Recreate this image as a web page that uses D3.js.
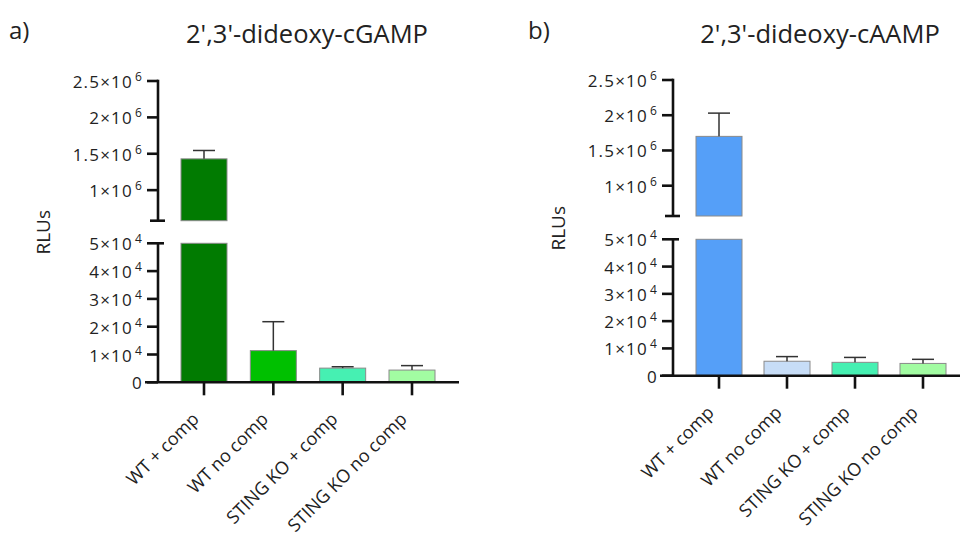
<!DOCTYPE html>
<html>
<head>
<meta charset="utf-8">
<script src="https://cdn.jsdelivr.net/npm/d3@7"></script>
<style>
  body { margin: 0; background: #fff; }
  svg { display: block; }
  text { font-family: "Open Sans", "Noto Sans", sans-serif; fill: #222; }
</style>
</head>
<body>
<svg id="chart" width="961" height="538"></svg>
<script>
// data
var categories = ["WT + comp", "WT no comp", "STING KO + comp", "STING KO no comp"];
var gampMean = [1.43e6, 1.14e4, 5.1e3, 4.4e3];
var gampSD   = [1.15e5, 1.04e4, 5.0e2, 1.6e3];
var aampMean = [1.70e6, 5.3e3, 4.9e3, 4.5e3];
var aampSD   = [3.3e5, 1.7e3, 1.8e3, 1.5e3];
var upperTicks = [1e6, 1.5e6, 2e6, 2.5e6];
var lowerTicks = [0, 1e4, 2e4, 3e4, 4e4, 5e4];
var gampColors = ["#017b01", "#00c000", "#46f0b2", "#a2fca2"];
var aampColors = ["#559ff8", "#c7ddf7", "#46f0b2", "#a2fca2"];

var svg = d3.select("#chart");

// panel layout (pixels)
var panels = [
  { tag: "a)", title: "2',3'-dideoxy-cGAMP", means: gampMean, sd: gampSD, colors: gampColors,
    tagX: 9, titleX: 307, axisX: 158, xStart: 145, xEnd: 459, centers: [204, 412],
    upper: [220.7, 81], upperMin: 0.58e6, lower: [382.3, 243.3] },
  { tag: "b)", title: "2',3'-dideoxy-cAAMP", means: aampMean, sd: aampSD, colors: aampColors,
    tagX: 528, titleX: 820, axisX: 673, xStart: 660, xEnd: 960, centers: [719, 923],
    upper: [216, 80], upperMin: 0.57e6, lower: [375.7, 239.3] }
];

var barWidth = 46;

function tickLabel(sel, v) {
  var exp = Math.floor(Math.log10(v));
  var mant = v / Math.pow(10, exp);
  sel.append("tspan").text(mant + "\u00d710");
  sel.append("tspan").attr("dy", -7).attr("dx", 2).attr("font-size", 12).text(exp);
}

panels.forEach(function(p) {
  var g = svg.append("g");

  var x = d3.scalePoint().domain(categories).range(p.centers);
  var yUp = d3.scaleLinear().domain([p.upperMin, 2.5e6]).range(p.upper);
  var yLo = d3.scaleLinear().domain([0, 5e4]).range(p.lower);

  // letter + title
  g.append("text").attr("x", p.tagX).attr("y", 39).attr("font-size", 24).text(p.tag);
  g.append("text").attr("x", p.titleX).attr("y", 42.5).attr("text-anchor", "middle")
    .attr("font-size", 25.5).text(p.title);

  // y label
  g.append("text")
    .attr("transform", "translate(" + (p.axisX - 108) + "," + (p.lower[1] - 11) + ") rotate(-90)")
    .attr("text-anchor", "middle").attr("font-size", 19).text("RLUs");

  var data = categories.map(function(c, i) {
    return { cat: c, mean: p.means[i], sd: p.sd[i], color: p.colors[i] };
  });

  // lower segment bars
  g.selectAll("rect.lo").data(data).enter().append("rect")
    .attr("class", "lo")
    .attr("x", function(d) { return x(d.cat) - barWidth / 2; })
    .attr("width", barWidth)
    .attr("y", function(d) { return yLo(Math.min(d.mean, 5e4)); })
    .attr("height", function(d) { return yLo(0) - yLo(Math.min(d.mean, 5e4)); })
    .attr("fill", function(d) { return d.color; })
    .attr("stroke", "#8a8a8a").attr("stroke-width", 1);

  // upper segment, only the bars that reach past the break
  var big = data.filter(function(d) { return d.mean > p.upperMin; });
  g.selectAll("rect.up").data(big).enter().append("rect")
    .attr("class", "up")
    .attr("x", function(d) { return x(d.cat) - barWidth / 2; })
    .attr("width", barWidth)
    .attr("y", function(d) { return yUp(d.mean); })
    .attr("height", function(d) { return yUp(p.upperMin) - yUp(d.mean); })
    .attr("fill", function(d) { return d.color; })
    .attr("stroke", "#8a8a8a").attr("stroke-width", 1);

  // error bars (upper whisker only)
  data.forEach(function(d) {
    var ys = d.mean > 5e4 ? yUp : yLo;
    var cx = x(d.cat);
    g.append("line").attr("x1", cx).attr("x2", cx)
      .attr("y1", ys(d.mean)).attr("y2", ys(d.mean + d.sd))
      .attr("stroke", "#333").attr("stroke-width", 1.5);
    g.append("line").attr("x1", cx - 11).attr("x2", cx + 11)
      .attr("y1", ys(d.mean + d.sd)).attr("y2", ys(d.mean + d.sd))
      .attr("stroke", "#333").attr("stroke-width", 1.5);
  });

  // y axes with break
  var axStroke = "#111", axW = 2.6;
  g.append("line").attr("x1", p.axisX).attr("x2", p.axisX)
    .attr("y1", yUp(2.5e6) - axW / 2).attr("y2", yUp(p.upperMin))
    .attr("stroke", axStroke).attr("stroke-width", axW);
  g.append("line").attr("x1", p.axisX - 8).attr("x2", p.axisX + 7)
    .attr("y1", yUp(p.upperMin)).attr("y2", yUp(p.upperMin))
    .attr("stroke", axStroke).attr("stroke-width", axW);
  g.append("line").attr("x1", p.axisX).attr("x2", p.axisX)
    .attr("y1", yLo(5e4) - axW / 2).attr("y2", yLo(0))
    .attr("stroke", axStroke).attr("stroke-width", axW);
  g.append("line").attr("x1", p.axisX).attr("x2", p.axisX + 6)
    .attr("y1", yLo(5e4)).attr("y2", yLo(5e4))
    .attr("stroke", axStroke).attr("stroke-width", axW);

  function ticks(scale, vals) {
    vals.forEach(function(v) {
      g.append("line").attr("x1", p.axisX - 11).attr("x2", p.axisX)
        .attr("y1", scale(v)).attr("y2", scale(v))
        .attr("stroke", axStroke).attr("stroke-width", axW);
      var t = g.append("text").attr("x", p.axisX - 15).attr("y", scale(v) + 7)
        .attr("text-anchor", "end").attr("font-size", 17)
        .attr("letter-spacing", 1.2);
      if (v === 0) t.text("0"); else tickLabel(t, v);
    });
  }
  ticks(yUp, upperTicks);
  ticks(yLo, lowerTicks);

  // x axis
  g.append("line").attr("x1", p.xStart).attr("x2", p.xEnd)
    .attr("y1", yLo(0)).attr("y2", yLo(0))
    .attr("stroke", axStroke).attr("stroke-width", axW);
  categories.forEach(function(c) {
    g.append("line").attr("x1", x(c)).attr("x2", x(c))
      .attr("y1", yLo(0)).attr("y2", yLo(0) + 13)
      .attr("stroke", axStroke).attr("stroke-width", axW);
    g.append("text")
      .attr("transform", "translate(" + (x(c) - 4) + "," + (yLo(0) + 38) + ") rotate(-45)")
      .attr("text-anchor", "end").attr("font-size", 18).text(c);
  });
});
</script>
</body>
</html>
